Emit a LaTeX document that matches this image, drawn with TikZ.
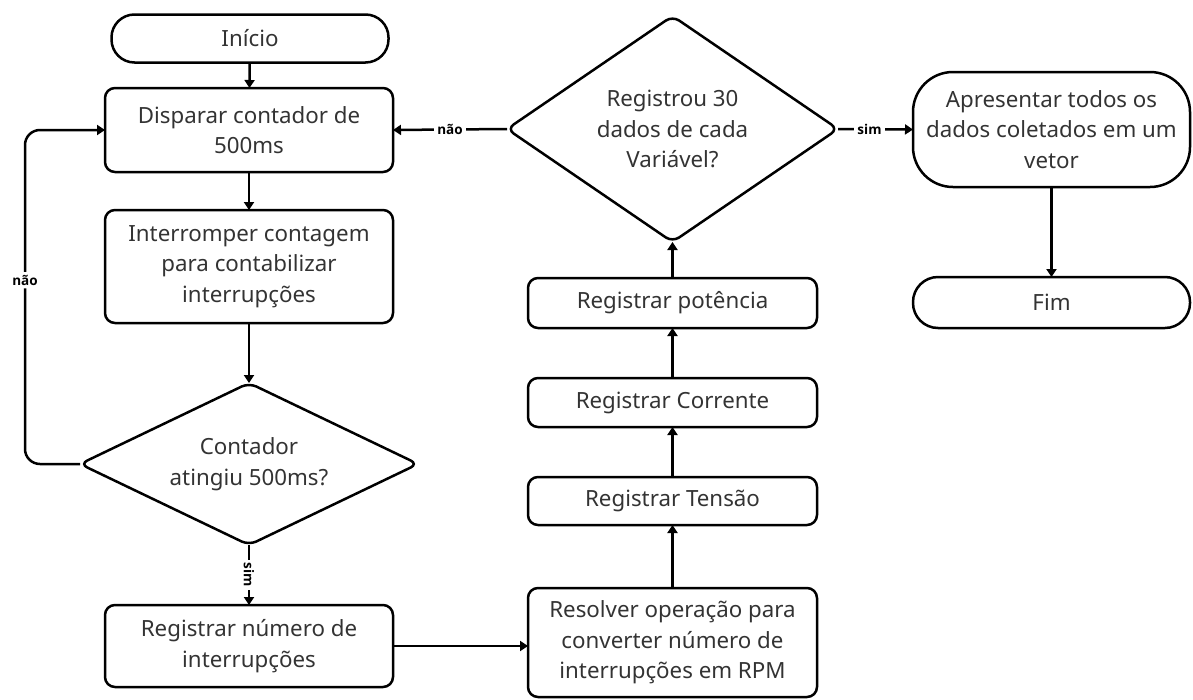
\documentclass[tikz,border=0pt]{standalone}
\usepackage{fontspec}
\setmainfont{Noto Sans}
\newfontfamily\lblfont{Open Sans}
\usetikzlibrary{shapes.geometric,arrows.meta}
\definecolor{txt}{HTML}{333333}
\begin{document}
\begin{tikzpicture}[x=1pt,y=-1pt,
  every node/.style={font=\fontsize{22.3}{30.5}\selectfont, text=txt, align=center, inner sep=0pt, outer sep=0pt},
  proc/.style={draw=black, line width=2.5pt, rounded corners=10pt, minimum width=288pt},
  term/.style={draw=black, line width=2.5pt, minimum width=277pt},
  dec/.style={draw=black, line width=2.5pt, diamond, rounded corners=8pt},
  conn/.style={line width=2.5pt, -{Triangle[length=8pt,width=10pt]}},
  lbl/.style={font=\lblfont\bfseries\fontsize{13.5}{13.5}\selectfont, text=black, fill=white, inner sep=3pt}]
\useasboundingbox (0,0) rectangle (1193,699);

\node[term, rounded corners=23pt, minimum height=48pt] (start) at (250,38.5) {Início};
\node[proc, minimum height=84pt] (disparar) at (249,130) {Disparar contador de\\500ms};
\node[proc, minimum height=113pt] (interromper) at (249,266.5) {Interromper contagem\\para contabilizar\\interrupções};
\node[dec, aspect=2.09, minimum width=338pt, minimum height=162pt] (contador) at (249,464) {Contador\\atingiu 500ms?};
\node[proc, minimum height=82pt] (numero) at (249,646) {Registrar número de\\interrupções};
\node[proc, minimum width=289pt, minimum height=109pt] (resolver) at (672.5,642.5) {Resolver operação para\\converter número de\\interrupções em RPM};
\node[proc, minimum width=289pt, minimum height=48pt] (tensao) at (672.5,501) {Registrar Tensão};
\node[proc, minimum width=289pt, minimum height=49pt] (corrente) at (672.5,402.5) {Registrar Corrente};
\node[proc, minimum width=289pt, minimum height=50pt] (potencia) at (672.5,303) {Registrar potência};
\node[dec, aspect=1.46, minimum width=331pt, minimum height=226pt] (registrou) at (672.5,129) {Registrou 30\\dados de cada\\Variável?};
\node[term, rounded corners=40pt, minimum height=115pt] (apresentar) at (1051.5,129.5) {Apresentar todos os\\dados coletados em um\\vetor};
\node[term, rounded corners=25pt, minimum height=51pt] (fim) at (1051.5,302.5) {Fim};

\coordinate (lft) at (25,0);

\draw[conn] (start) -- (disparar);
\draw[conn] (disparar) -- (interromper);
\draw[conn] (interromper) -- (contador);
\draw[conn] (contador.south) -- node[lbl, rotate=-90] {sim} (numero.north);
\draw[conn, rounded corners=15pt] (contador.west) -- (contador.west -| lft) -- node[lbl, pos=0.55] {não} (disparar.west -| lft) -- (disparar.west);
\draw[conn] (numero.east) -- (numero.east -| resolver.west);
\draw[conn] (resolver) -- (tensao);
\draw[conn] (tensao) -- (corrente);
\draw[conn] (corrente) -- (potencia);
\draw[conn] (potencia.north) -- (registrou.south);
\draw[conn] (registrou.west) -- node[lbl] {não} (disparar.east);
\draw[conn] (registrou.east) -- node[lbl, pos=0.42] {sim} (apresentar.west);
\draw[conn] (apresentar) -- (fim);
\end{tikzpicture}
\end{document}
